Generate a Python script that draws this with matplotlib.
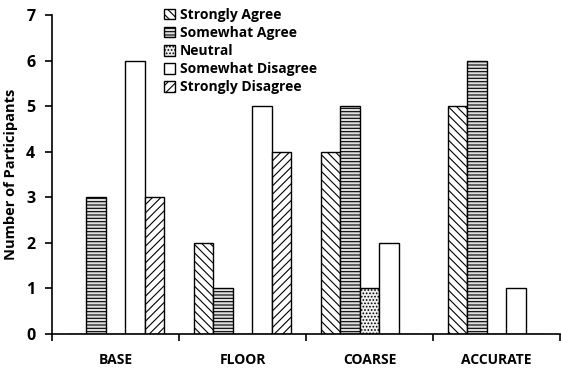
import matplotlib
matplotlib.use("Agg")
import matplotlib.pyplot as plt
import numpy as np

plt.rcParams['font.family'] = ['Open Sans', 'DejaVu Sans']
plt.rcParams['font.weight'] = 'bold'
plt.rcParams['hatch.linewidth'] = 0.8

categories = ["BASE", "FLOOR", "COARSE", "ACCURATE"]
series_names = ["Strongly Agree", "Somewhat Agree", "Neutral", "Somewhat Disagree", "Strongly Disagree"]
strongly_agree = [0, 2, 4, 5]
somewhat_agree = [3, 1, 5, 6]
neutral = [0, 0, 1, 0]
somewhat_disagree = [6, 5, 2, 1]
strongly_disagree = [3, 4, 0, 0]
series_values = [strongly_agree, somewhat_agree, neutral, somewhat_disagree, strongly_disagree]
y_ticks = [0, 1, 2, 3, 4, 5, 6, 7]

hatches = ['\\\\\\\\', '-----', '.....', '', '////']
faces = ['white', '#dedede', '#f0f0f0', 'white', 'white']

fig = plt.figure(figsize=(5.61, 3.69), dpi=100)
ax = fig.add_axes([52/561, 1-334/369, (560-52)/561, (334-15)/369])

x = np.arange(len(categories))
w = 0.154
for i, (name, vals) in enumerate(zip(series_names, series_values)):
    ax.bar(x + (i - 2) * w, vals, width=w, facecolor=faces[i], edgecolor='black',
           hatch=hatches[i], linewidth=1.0, label=name)

ax.set_xlim(-0.5, len(categories) - 0.5)
ax.set_ylim(0, 7)
ax.set_yticks(y_ticks)
ax.set_yticklabels([str(t) for t in y_ticks], fontsize=11.5, fontweight='bold')
ax.set_xticks(x)
ax.set_xticklabels(categories, fontsize=10, fontweight='bold')
ax.tick_params(axis='x', length=0, pad=14)
ax.set_xticks(np.arange(len(categories) + 1) - 0.5, minor=True)
ax.tick_params(axis='x', which='minor', length=5, width=1.2, direction='out')
ax.tick_params(axis='y', length=5, width=1.2, direction='out', pad=7)
for s in ['top', 'right']:
    ax.spines[s].set_visible(False)
for s in ['left', 'bottom']:
    ax.spines[s].set_linewidth(1.2)
ax.set_ylabel("Number of Participants", fontsize=10.5, fontweight='bold', labelpad=6)

leg = ax.legend(loc='upper left', bbox_to_anchor=(0.21, 1.04), frameon=False,
                prop={'size': 10, 'weight': 'bold'}, handlelength=0.8, handleheight=0.8,
                handletextpad=0.3, labelspacing=0.3, borderaxespad=0)

fig.savefig("out.png", dpi=100)
